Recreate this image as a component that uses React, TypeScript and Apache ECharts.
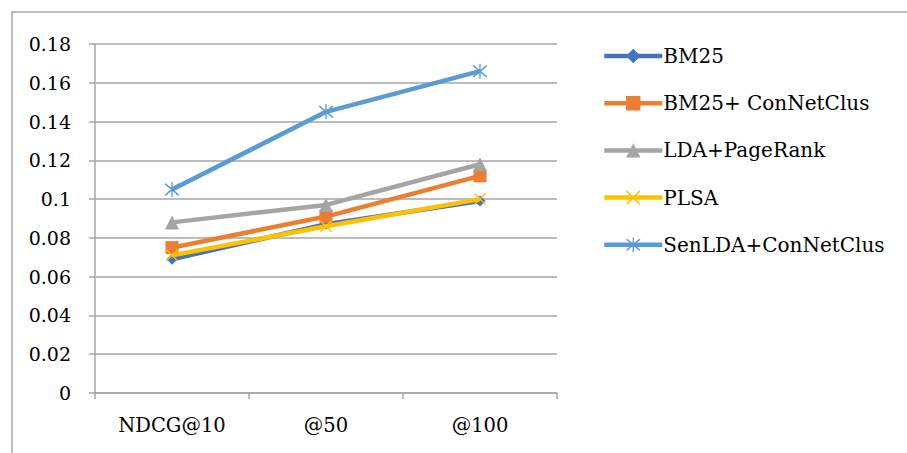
import React, { useEffect, useRef } from "react";
import * as echarts from "echarts";

const categories = ["NDCG@10", "@50", "@100"];
const seriesNames = ["BM25", "BM25+ ConNetClus", "LDA+PageRank", "PLSA", "SenLDA+ConNetClus"];
const bm25 = [0.069, 0.087, 0.099];
const bm25ConNetClus = [0.075, 0.091, 0.112];
const ldaPageRank = [0.088, 0.097, 0.118];
const plsa = [0.071, 0.086, 0.1];
const senLdaConNetClus = [0.105, 0.145, 0.166];
const yTicks = { min: 0, max: 0.18, interval: 0.02 };

const colors = ["#4472C4", "#ED7D31", "#A5A5A5", "#FFC000", "#5B9BD5"];

const crossPath =
  "path://M0,0.8 L0.8,0 L5,4.2 L9.2,0 L10,0.8 L5.8,5 L10,9.2 L9.2,10 L5,5.8 L0.8,10 L0,9.2 L4.2,5 Z";
const starPath =
  "path://M0,0.8 L0.8,0 L5,4.2 L9.2,0 L10,0.8 L5.8,5 L10,9.2 L9.2,10 L5,5.8 L0.8,10 L0,9.2 L4.2,5 Z M4.55,-1 L5.45,-1 L5.45,11 L4.55,11 Z";

const symbols = ["diamond", "rect", "triangle", crossPath, starPath];
const symbolSizes = [11, 13, 14, 12, 15];
const dataSets = [bm25, bm25ConNetClus, ldaPageRank, plsa, senLdaConNetClus];

const FONT = "DejaVu Serif";

export default function App() {
  const ref = useRef<HTMLDivElement>(null);
  useEffect(() => {
    document.body.style.margin = "0";
    const chart = echarts.init(ref.current!, null, { renderer: "svg" });
    chart.setOption({
      animation: false,
      backgroundColor: "#ffffff",
      color: colors,
      graphic: [
        {
          type: "rect",
          shape: { x: 12, y: 12, width: 1000, height: 1000 },
          style: { fill: "none", stroke: "#A6A6A6", lineWidth: 1.5 },
          silent: true,
        },
      ],
      grid: { left: 95, right: 350, top: 44, bottom: 60 },
      legend: {
        orient: "vertical",
        left: 597,
        top: 41,
        itemWidth: 58,
        itemHeight: 18,
        itemGap: 27.2,
        data: seriesNames,
        lineStyle: { width: 4.5 },
        textStyle: { fontFamily: FONT, fontSize: 20, color: "#000", padding: [0, 0, 0, -4] },
      },
      xAxis: {
        type: "category",
        data: categories,
        boundaryGap: true,
        axisLine: { lineStyle: { color: "#A6A6A6", width: 1.5 } },
        axisTick: { show: true, length: 6, lineStyle: { color: "#A6A6A6", width: 1.5 } },
        axisLabel: { fontFamily: FONT, fontSize: 19.5, color: "#000", margin: 22 },
      },
      yAxis: {
        type: "value",
        min: yTicks.min,
        max: yTicks.max,
        interval: yTicks.interval,
        axisLine: { show: true, lineStyle: { color: "#A6A6A6", width: 1.5 } },
        axisTick: { show: true, length: 6, lineStyle: { color: "#A6A6A6", width: 1.5 } },
        axisLabel: {
          fontFamily: FONT,
          fontSize: 19,
          color: "#000",
          margin: 24,
          formatter: (v: number) => String(parseFloat(v.toFixed(2))),
        },
        splitLine: { lineStyle: { color: "#A6A6A6", width: 1.5 } },
      },
      series: seriesNames.map((name, i) => ({
        name,
        type: "line",
        data: dataSets[i],
        symbol: symbols[i],
        symbolSize: symbolSizes[i],
        showAllSymbol: true,
        lineStyle: { width: 4.5, color: colors[i] },
        itemStyle: { color: colors[i] },
        z: 2 + i,
      })),
    });
    return () => chart.dispose();
  }, []);
  return <div ref={ref} style={{ width: 907, height: 453 }} />;
}
